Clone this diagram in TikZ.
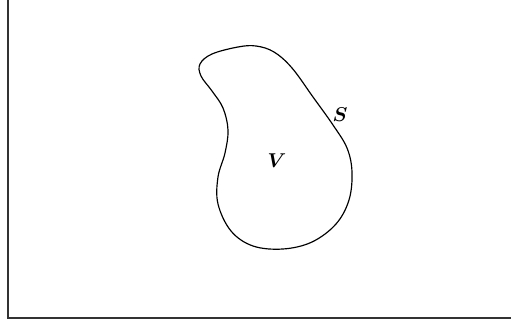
\documentclass[tikz,border=0pt]{standalone}
\usepackage{bm}
\usepackage{amsmath}
\usetikzlibrary{positioning}

\begin{document}
\begin{tikzpicture}[x=0.6pt, y=-0.6pt,
  frame/.style={line width=0.9pt, draw=black!80},
  blob/.style={line width=0.7pt},
  lbl/.style={font=\large}]
\useasboundingbox (0,0) rectangle (511,325);
\coordinate (tl) at (8,0);
\coordinate (bl) at (8,318);
\coordinate (br) at (511,318);
\draw[frame] (tl) -- (bl) -- (br);
% closed surface S around volume V
\draw[blob] plot[smooth cycle, tension=0.6] coordinates {
  (200,64) (212,54) (238,47) (256,46) (274,52) (292,68)
  (313,97) (333,125) (347,148) (352,172) (349,200) (336,224)
  (312,242) (283,249) (253,246) (231,231) (218,204) (218,177)
  (225,153) (228,130) (223,108) (212,91) (201,76)};
\node[lbl] (S) at (340,115) {$\bm{S}$};
\node[lbl] (V) at (277,161) {$\bm{V}$};
\end{tikzpicture}
\end{document}
